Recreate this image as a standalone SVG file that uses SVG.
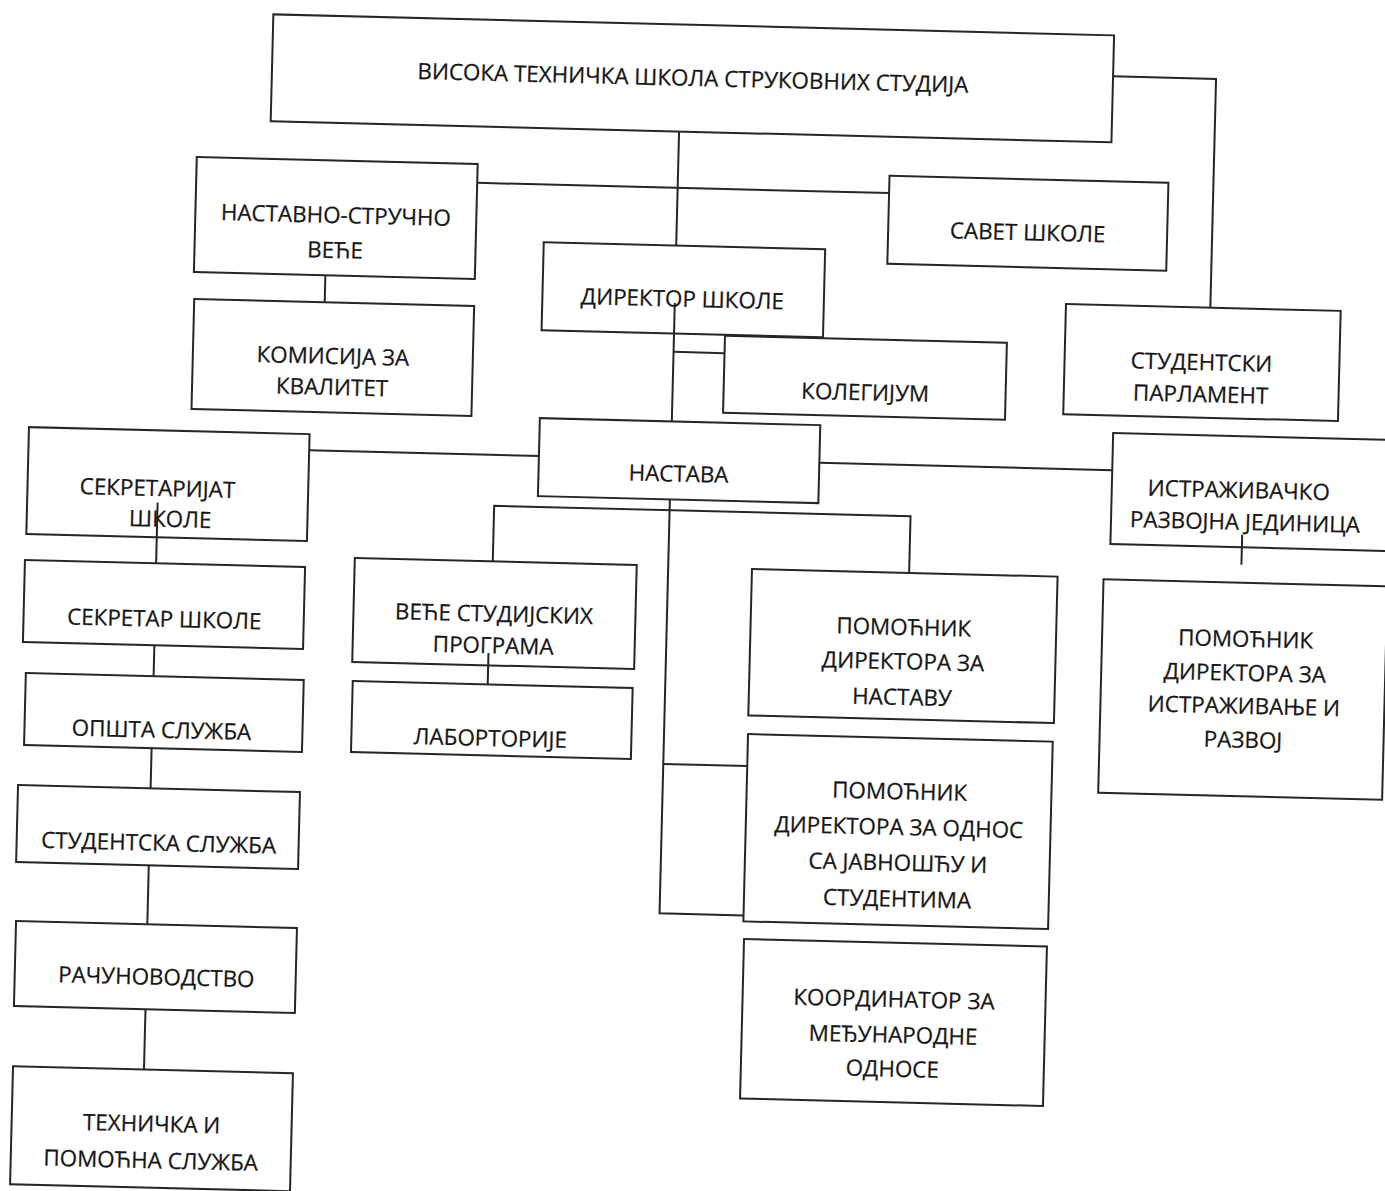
<svg xmlns="http://www.w3.org/2000/svg" width="1385" height="1191" viewBox="0 0 1385 1191">
<style>
.box{fill:none;stroke:#262626;stroke-width:2}
.ln{fill:none;stroke:#262626;stroke-width:2}
text{font-family:"Open Sans","Noto Sans",sans-serif;font-size:22.4px;fill:#161616;text-anchor:middle;stroke:#161616;stroke-width:0.25}
</style>
<rect width="1385" height="1191" fill="#fff"/>
<g transform="rotate(1.43 692 595)">
<g id="connectors" class="ln">
<path d="M667.5 132 V246"/>
<path d="M467 188.3 H879"/>
<path d="M1100 66 H1203 V294.8"/>
<path d="M317.5 284.5 V311.5"/>
<path d="M667.5 303.5 V422"/>
<path d="M667.5 352.4 H718.5"/>
<path d="M305.7 459.8 H535.5"/>
<path d="M816 459.7 H1109"/>
<path d="M155.5 516 V576.7"/>
<path d="M155.8 658.7 V689.6"/>
<path d="M155.6 761.7 V801.8"/>
<path d="M155.7 878.7 V937.8"/>
<path d="M156 1022.8 V1083"/>
<path d="M667.5 500 V914 H751.5"/>
<path d="M667.5 764.6 H751.5"/>
<path d="M492 566.4 V510.8 H908.5 V567.5"/>
<path d="M490 658 V689.5"/>
<path d="M1240.5 521 V551"/>
</g>
<g id="n-vtss"><rect class="box" x="259" y="25" width="841" height="107"/><text x="680" y="86">ВИСОКА ТЕХНИЧКА ШКОЛА СТРУКОВНИХ СТУДИЈА</text></g>
<g id="n-nsv"><rect class="box" x="186" y="169.5" width="281" height="115"/><text x="326.5" y="232">НАСТАВНО-СТРУЧНО</text><text x="326.5" y="267">ВЕЋЕ</text></g>
<g id="n-komisija"><rect class="box" x="187" y="311.5" width="280" height="110"/><text x="327" y="373">КОМИСИЈА ЗА</text><text x="327" y="404">КВАЛИТЕТ</text></g>
<g id="n-savet"><rect class="box" x="879" y="171" width="279" height="88"/><text x="1018.5" y="232">САВЕТ ШКОЛЕ</text></g>
<g id="n-direktor"><rect class="box" x="535" y="246" width="281.5" height="88"/><text x="675" y="307">ДИРЕКТОР ШКОЛЕ</text></g>
<g id="n-kolegijum"><rect class="box" x="718.5" y="335" width="282" height="77"/><text x="860" y="396">КОЛЕГИЈУМ</text></g>
<g id="n-nastava"><rect class="box" x="535.5" y="422" width="280.5" height="78"/><text x="675.5" y="482">НАСТАВА</text></g>
<g id="n-parlament"><rect class="box" x="1058.6" y="294.8" width="274.8" height="110.2"/><text x="1195.5" y="357.5">СТУДЕНТСКИ</text><text x="1195.5" y="389.5">ПАРЛАМЕНТ</text></g>
<g id="n-istrazivacko"><rect class="box" x="1109" y="422.6" width="285" height="111"/><text x="1236" y="484.3">ИСТРАЖИВАЧКО</text><text x="1243" y="516.2">РАЗВОЈНА ЈЕДИНИЦА</text></g>
<g id="n-pom-ir"><rect class="box" x="1103" y="569" width="284" height="213.5"/><text x="1246.5" y="633">ПОМОЋНИК</text><text x="1246.5" y="667">ДИРЕКТОРА ЗА</text><text x="1246.5" y="700">ИСТРАЖИВАЊЕ И</text><text x="1246.5" y="734">РАЗВОЈ</text></g>
<g id="n-sekretarijat"><rect class="box" x="25" y="443.7" width="280.7" height="107"/><text x="155" y="509.4">СЕКРЕТАРИЈАТ</text><text x="168.5" y="540">ШКОЛЕ</text></g>
<g id="n-sekretar"><rect class="box" x="24.3" y="576.7" width="280.2" height="82"/><text x="165" y="640">СЕКРЕТАР ШКОЛЕ</text></g>
<g id="n-opsta"><rect class="box" x="28" y="689.6" width="278" height="72"/><text x="165" y="751">ОПШТА СЛУЖБА</text></g>
<g id="n-studentska"><rect class="box" x="23" y="801.8" width="282" height="77"/><text x="165" y="864">СТУДЕНТСКА СЛУЖБА</text></g>
<g id="n-racun"><rect class="box" x="24.4" y="937.8" width="281" height="85"/><text x="166" y="998">РАЧУНОВОДСТВО</text></g>
<g id="n-tehnicka"><rect class="box" x="25" y="1083" width="280" height="118"/><text x="165" y="1145">ТЕХНИЧКА И</text><text x="165" y="1181.6">ПОМОЋНА СЛУЖБА</text></g>
<g id="n-vece"><rect class="box" x="354" y="566.4" width="282" height="104"/><text x="494.5" y="626.6">ВЕЋЕ СТУДИЈСКИХ</text><text x="494.5" y="658.3">ПРОГРАМА</text></g>
<g id="n-lab"><rect class="box" x="355" y="689.5" width="280" height="71"/><text x="494" y="751">ЛАБОРТОРИЈЕ</text></g>
<g id="n-pom-n"><rect class="box" x="751.3" y="567.5" width="305.7" height="146.5"/><text x="904.5" y="629.7">ПОМОЋНИК</text><text x="904.5" y="664">ДИРЕКТОРА ЗА</text><text x="904.5" y="699.7">НАСТАВУ</text></g>
<g id="n-pom-o"><rect class="box" x="751.5" y="732.6" width="304.8" height="187.4"/><text x="904.5" y="794">ПОМОЋНИК</text><text x="904.5" y="829.8">ДИРЕКТОРА ЗА ОДНОС</text><text x="904.5" y="865.5">СА ЈАВНОШЋУ И</text><text x="904.5" y="901.5">СТУДЕНТИМА</text></g>
<g id="n-koord"><rect class="box" x="752.6" y="937.6" width="303" height="159.5"/><text x="904" y="1002">КООРДИНАТОР ЗА</text><text x="904" y="1037.6">МЕЂУНАРОДНЕ</text><text x="904" y="1071.6">ОДНОСЕ</text></g>
</g>
</svg>
